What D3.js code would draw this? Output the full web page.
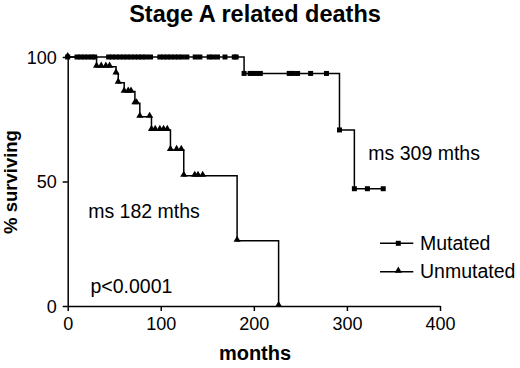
<!DOCTYPE html>
<meta charset="utf-8">
<script src="https://d3js.org/d3.v7.min.js"></script>
<style>
  body { margin: 0; background: #fff; }
  text { font-family: "Liberation Sans", Arial, sans-serif; fill: #000; }
</style>
<div id="chart"></div>
<script>

// Kaplan-Meier data: [months, % surviving] at each death
const mutatedEvents = [[189.5, 93.4], [292, 70.7], [308, 47.1]];
const mutatedCensored = [10, 14, 18, 22, 26, 29, 44, 48, 52, 56, 60, 64, 68, 72, 76, 80, 84, 89,
  99, 103, 107, 111, 115, 119, 123, 128, 137, 142, 152, 156, 161, 169, 179, 181,
  196, 199, 203, 207, 238, 242, 247, 261, 278, 322, 339];

const unmutatedEvents = [[31, 96.1], [51.9, 93.4], [54.3, 89.7], [60.7, 86.1], [72.2, 81.4],
  [77.5, 76.0], [90, 70.7], [110.4, 62.7], [124.7, 52.3], [182, 26.2], [226.6, 0]];
const unmutatedCensored = [36, 41, 45, 65, 68, 74, 88, 94, 99, 103, 107, 117, 122, 136.5, 140, 145];

const xTicks = [0, 100, 200, 300, 400];
const yTicks = [0, 50, 100];

const margin = {top: 57, left: 67.7},
  width = 372.3,
  height = 249;

const svg = d3.select("#chart")
  .append("svg")
    .attr("width", 520)
    .attr("height", 368);

const g = svg.append("g")
  .attr("transform", `translate(${margin.left},${margin.top})`);

const x = d3.scaleLinear().domain([0, 400]).range([0, width]);
const y = d3.scaleLinear().domain([0, 100]).range([height, 0]);

// build the step points: start, events (new level) and censored marks (current level)
function buildPoints(events, censored) {
  const pts = [{t: 0, s: 100}];
  events.forEach(e => pts.push({t: e[0], s: e[1]}));
  censored.forEach(t => {
    let s = 100;
    events.forEach(e => { if (e[0] <= t) s = e[1]; });
    pts.push({t: t, s: s});
  });
  pts.sort((a, b) => a.t - b.t);
  return pts;
}

const mutated = buildPoints(mutatedEvents, mutatedCensored);
const unmutated = buildPoints(unmutatedEvents, unmutatedCensored);

const line = d3.line()
  .x(d => x(d.t))
  .y(d => y(d.s))
  .curve(d3.curveStepAfter);

// axes
const xAxis = g.append("g")
  .attr("transform", `translate(0,${height})`)
  .call(d3.axisBottom(x).tickValues(xTicks).tickSize(5).tickPadding(6).tickSizeOuter(0));
xAxis.selectAll("text").style("font-size", "18px");

const yAxis = g.append("g")
  .call(d3.axisLeft(y).tickValues(yTicks).tickSize(5).tickPadding(6).tickSizeOuter(0));
yAxis.selectAll("text").style("font-size", "18px").attr("dy", "0.36em");

g.selectAll(".domain, .tick line").attr("stroke", "#000").attr("stroke-width", 1.5);

// curves
[unmutated, mutated].forEach(data => {
  g.append("path")
    .datum(data)
    .attr("fill", "none")
    .attr("stroke", "#000")
    .attr("stroke-width", 1.5)
    .attr("d", line);
});

const square = d3.symbol().type(d3.symbolSquare).size(25);
const triangle = d3.symbol().type(d3.symbolTriangle).size(22);

g.selectAll(".mut")
  .data(mutated)
  .join("path")
    .attr("class", "mut")
    .attr("d", square)
    .attr("transform", d => `translate(${x(d.t)},${y(d.s)})`);

g.selectAll(".unmut")
  .data(unmutated)
  .join("path")
    .attr("class", "unmut")
    .attr("d", triangle)
    .attr("transform", d => `translate(${x(d.t)},${y(d.s) - 1})`);

// annotations
g.append("text").attr("x", x(323)).attr("y", y(58.6)).style("font-size", "19.5px").text("ms 309 mths");
g.append("text").attr("x", x(22)).attr("y", y(35.5)).style("font-size", "19.5px").text("ms 182 mths");
g.append("text").attr("x", x(24.5)).attr("y", y(5.3)).style("font-size", "19.5px").text("p<0.0001");

// legend
const legend = svg.append("g");
[["Mutated", square, 243.3], ["Unmutated", triangle, 271.7]].forEach(([name, sym, ly]) => {
  legend.append("line")
    .attr("x1", 380).attr("x2", 413.3)
    .attr("y1", ly).attr("y2", ly)
    .attr("stroke", "#000").attr("stroke-width", 1.5);
  legend.append("path")
    .attr("d", sym)
    .attr("transform", `translate(398.3,${ly - (name === "Unmutated" ? 1 : 0)})`);
  legend.append("text")
    .attr("x", 420).attr("y", ly + 6.5)
    .style("font-size", "19.5px")
    .text(name);
});

// title and axis labels
svg.append("text")
  .attr("x", 255).attr("y", 21.7)
  .attr("text-anchor", "middle")
  .style("font-size", "23.5px").style("font-weight", "bold")
  .text("Stage A related deaths");

svg.append("text")
  .attr("x", 255).attr("y", 360)
  .attr("text-anchor", "middle")
  .style("font-size", "20px").style("font-weight", "bold")
  .text("months");

svg.append("text")
  .attr("transform", "rotate(-90)")
  .attr("x", -182).attr("y", 17)
  .attr("text-anchor", "middle")
  .style("font-size", "18.5px").style("font-weight", "bold")
  .text("% surviving");

</script>
